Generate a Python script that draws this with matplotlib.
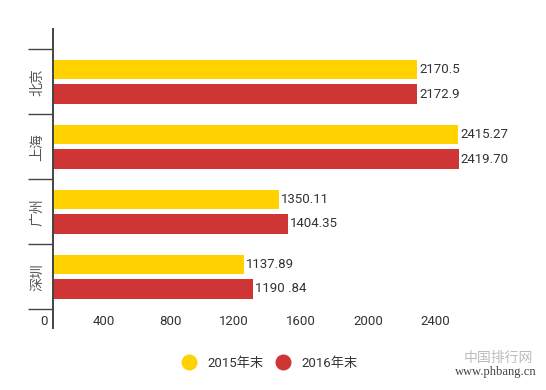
import matplotlib.pyplot as plt
import numpy as np
from matplotlib.lines import Line2D
from matplotlib import transforms

plt.rcParams['font.family'] = ['Roboto', 'Noto Sans CJK SC', 'DejaVu Sans']

cities = ['北京', '上海', '广州', '深圳']
vals_2015 = [2170.5, 2415.27, 1350.11, 1137.89]
vals_2016 = [2172.9, 2419.70, 1404.35, 1190.84]
labels_2015 = ['2170.5', '2415.27', '1350.11', '1137.89']
labels_2016 = ['2172.9', '2419.70', '1404.35', '1190 .84']
series_names = ['2015年末', '2016年末']
xticks = [0, 400, 800, 1200, 1600, 2000, 2400]

yellow = '#FFD200'
red = '#CF3535'
text_col = '#333333'

fig = plt.figure(figsize=(5.46, 3.90), dpi=100)
ax = fig.add_axes([0.0965, 0.159, 0.8885, 0.7666])

y = np.arange(len(cities))
h = 0.30
off = 0.19
ax.barh(y - off, vals_2015, height=h, color=yellow)
ax.barh(y + off, vals_2016, height=h, color=red)

ax.set_xlim(0, 2890)
ax.set_ylim(3.79, -0.81)

# value labels
shift = transforms.offset_copy(ax.transData, fig=fig, x=2, y=0, units='dots')
for i in range(len(cities)):
    ax.text(vals_2015[i], y[i] - off, labels_2015[i], transform=shift,
            ha='left', va='center', fontsize=9.5, color=text_col)
    ax.text(vals_2016[i], y[i] + off, labels_2016[i], transform=shift,
            ha='left', va='center', fontsize=9.5, color=text_col)

# spines
for s in ['top', 'right', 'bottom']:
    ax.spines[s].set_visible(False)
ax.spines['left'].set_color('#444444')
ax.spines['left'].set_linewidth(1.4)

# y separators and category labels
ax.set_yticks(np.arange(-0.5, len(cities), 1.0))
ax.set_yticklabels([])
ax.tick_params(axis='y', which='major', length=18, width=1, color='#444444')
ax.set_yticks(y, minor=True)
ax.set_yticklabels(cities, minor=True, rotation=90, va='center',
                   fontsize=10, color='#555555',
                   family=['Noto Sans CJK SC', 'DejaVu Sans'])
ax.tick_params(axis='y', which='minor', length=0, pad=6)

# x tick labels drawn inside the axes
ax.set_xticks([])
xshift = transforms.offset_copy(ax.get_xaxis_transform(), fig=fig, x=-5, y=0, units='dots')
for t in xticks:
    ax.text(t, 0.023, str(t), transform=xshift, ha='right', va='center',
            fontsize=9.5, color=text_col)

# legend
handles = [Line2D([], [], marker='o', linestyle='none', markersize=10.5,
                  markerfacecolor=c, markeredgecolor=c) for c in [yellow, red]]
fig.legend(handles, series_names, loc='center', bbox_to_anchor=(0.488, 0.069),
           ncol=2, frameon=False, fontsize=9.5, handletextpad=0.4,
           columnspacing=0.45, labelcolor=text_col)

# watermark
fig.text(0.977, 0.083, '中国排行网', ha='right', va='center', fontsize=10,
         color='#BBBBBB', family=['Noto Sans CJK SC'])
fig.text(0.982, 0.047, 'www.phbang.cn', ha='right', va='center', fontsize=9,
         color='#444444', family=['Liberation Serif'])

fig.savefig('out.png', dpi=100)
